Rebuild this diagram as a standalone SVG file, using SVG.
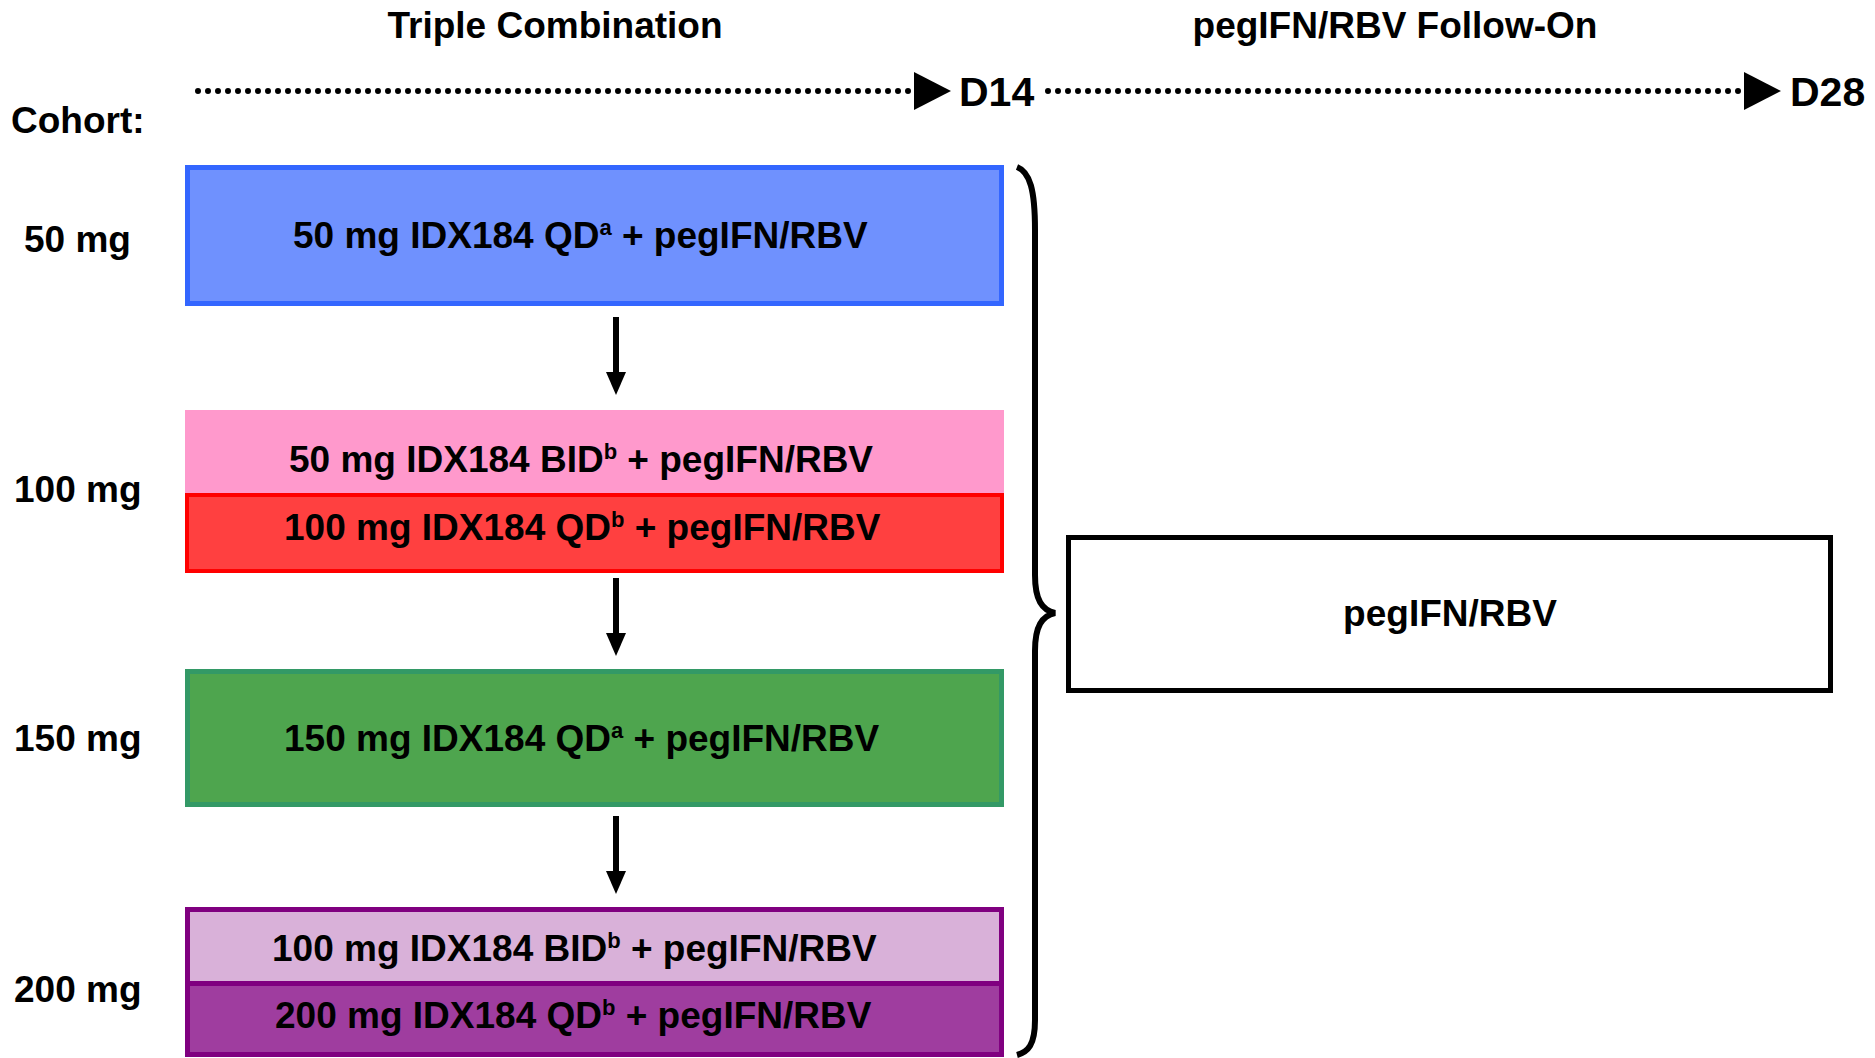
<svg xmlns="http://www.w3.org/2000/svg" width="1875" height="1058" viewBox="0 0 1875 1058">
<style>
text{font-family:"Liberation Sans",Arial,sans-serif;font-weight:bold;font-size:37px;fill:#000}
.sup{font-size:22px}
.big{font-size:41px}
.dots{stroke:#000;stroke-width:6;stroke-linecap:round;stroke-dasharray:0 10;fill:none}
.conn{stroke:#000;stroke-width:6;fill:none}
.head{fill:#000}
</style>
<rect width="1875" height="1058" fill="#fff"/>
<g id="headers">
<text x="555" y="38" text-anchor="middle">Triple Combination</text>
<text x="1395" y="38" text-anchor="middle">pegIFN/RBV Follow-On</text>
</g>
<g id="timeline">
<line class="dots" x1="198" y1="91" x2="910" y2="91"/>
<path d="M914,72 L951,91 L914,110 Z" fill="#000"/>
<text class="big" x="959" y="106">D14</text>
<line class="dots" x1="1048" y1="91" x2="1740" y2="91"/>
<path d="M1744,72 L1781,91 L1744,110 Z" fill="#000"/>
<text class="big" x="1790" y="106">D28</text>
</g>
<g id="cohort-labels">
<text x="11" y="133">Cohort:</text>
<text x="24" y="252">50 mg</text>
<text x="14" y="502">100 mg</text>
<text x="14" y="751">150 mg</text>
<text x="14" y="1002">200 mg</text>
</g>
<g id="node-50">
<rect x="187.5" y="167.5" width="814" height="136" fill="#6F91FE" stroke="#3366FF" stroke-width="5"/>
<text x="293" y="248">50 mg IDX184 QD<tspan class="sup" dy="-13">a</tspan><tspan dy="13"> + pegIFN/RBV</tspan></text>
</g>
<g id="node-100">
<rect x="185" y="410" width="819" height="84" fill="#FF99CC"/>
<text x="289" y="472">50 mg IDX184 BID<tspan class="sup" dy="-13">b</tspan><tspan dy="13"> + pegIFN/RBV</tspan></text>
<rect x="187" y="495" width="815" height="76" fill="#FF4040" stroke="#FF0000" stroke-width="4"/>
<text x="284" y="540">100 mg IDX184 QD<tspan class="sup" dy="-13">b</tspan><tspan dy="13"> + pegIFN/RBV</tspan></text>
</g>
<g id="node-150">
<rect x="187.5" y="671.5" width="814" height="133" fill="#4EA54E" stroke="#339966" stroke-width="5"/>
<text x="284" y="751">150 mg IDX184 QD<tspan class="sup" dy="-13">a</tspan><tspan dy="13"> + pegIFN/RBV</tspan></text>
</g>
<g id="node-200">
<rect x="187.5" y="909.5" width="814" height="74" fill="#D9B1D9" stroke="#800080" stroke-width="5"/>
<text x="272" y="961">100 mg IDX184 BID<tspan class="sup" dy="-13">b</tspan><tspan dy="13"> + pegIFN/RBV</tspan></text>
<rect x="187.5" y="983.5" width="814" height="71" fill="#9F3D9F" stroke="#800080" stroke-width="5"/>
<text x="275" y="1028">200 mg IDX184 QD<tspan class="sup" dy="-13">b</tspan><tspan dy="13"> + pegIFN/RBV</tspan></text>
</g>
<g id="node-follow">
<rect x="1068.5" y="537.5" width="762" height="153" fill="#fff" stroke="#000" stroke-width="5"/>
<text x="1450" y="626" text-anchor="middle">pegIFN/RBV</text>
</g>
<g id="connectors">
<line class="conn" x1="616" y1="317" x2="616" y2="376"/>
<path class="head" d="M606,372 L626,372 L616,395 Z"/>
<line class="conn" x1="616" y1="578" x2="616" y2="637"/>
<path class="head" d="M606,633 L626,633 L616,656 Z"/>
<line class="conn" x1="616" y1="816" x2="616" y2="875"/>
<path class="head" d="M606,871 L626,871 L616,894 Z"/>
<path class="conn" stroke-width="4" d="M1017,167 C1030,172 1035,190 1035,230 L1035,575 C1035,600 1042,610 1055,613 C1042,616 1035,626 1035,651 L1035,1020 C1035,1045 1028,1052 1017,1055"/>
</g>
</svg>
